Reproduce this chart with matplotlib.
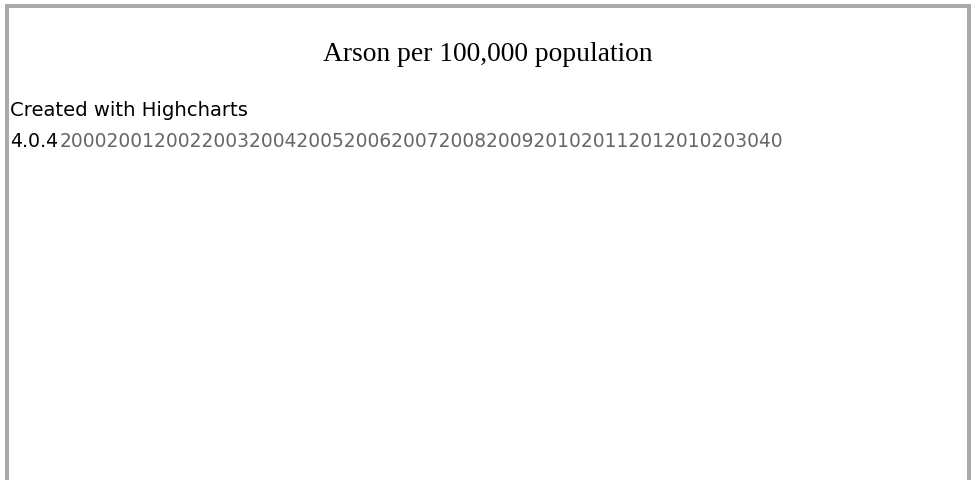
import matplotlib
matplotlib.use("Agg")
import matplotlib.pyplot as plt
from matplotlib.patches import Rectangle

# chart data (the labels leaked out as plain text in the reference render)
title = "Arson per 100,000 population"
credit = "Created with Highcharts"
version = "4.0.4"
years = ["2000", "2001", "2002", "2003", "2004", "2005", "2006",
         "2007", "2008", "2009", "2010", "2011", "2012"]
yticks = ["0", "10", "20", "30", "40"]

W, H = 971, 481
fig = plt.figure(figsize=(W / 100, H / 100), dpi=100)
fig.patch.set_facecolor("white")
renderer = fig.canvas.get_renderer()


def px_text(x, y, s, width, **kw):
    # put text at pixel position (top-left origin, baseline y) and scale it to a target width
    t = fig.text(x / W, 1 - y / H, s, ha="left", va="baseline", fontsize=12, **kw)
    w = t.get_window_extent(renderer).width
    t.set_fontsize(12 * width / w)
    return t


# frame (left, top, right only)
border = "#aaaaaa"
for (x0, y0, w, h) in [(5, 5, 4, 476), (5, 5, 966, 4), (967, 5, 4, 476)]:
    fig.patches.append(Rectangle((x0 / W, 1 - (y0 + h) / H), w / W, h / H,
                                 transform=fig.transFigure, facecolor=border,
                                 edgecolor="none"))

px_text(323, 61, title, 329, family="Liberation Serif", color="black")
cr = px_text(10, 116, credit, 237, family="DejaVu Sans", color="black")

# version number uses the same size as the credit line
v = fig.text(10 / W, 1 - 147 / H, version, ha="left", va="baseline",
             fontsize=cr.get_fontsize() * 0.97, family="DejaVu Sans", color="black")
vx = v.get_window_extent(renderer).x1 + 1
px_text(vx, 147, "".join(years) + "".join(yticks), 778 - vx, family="DejaVu Sans", color="#666666")

fig.savefig("out.png", dpi=100)
